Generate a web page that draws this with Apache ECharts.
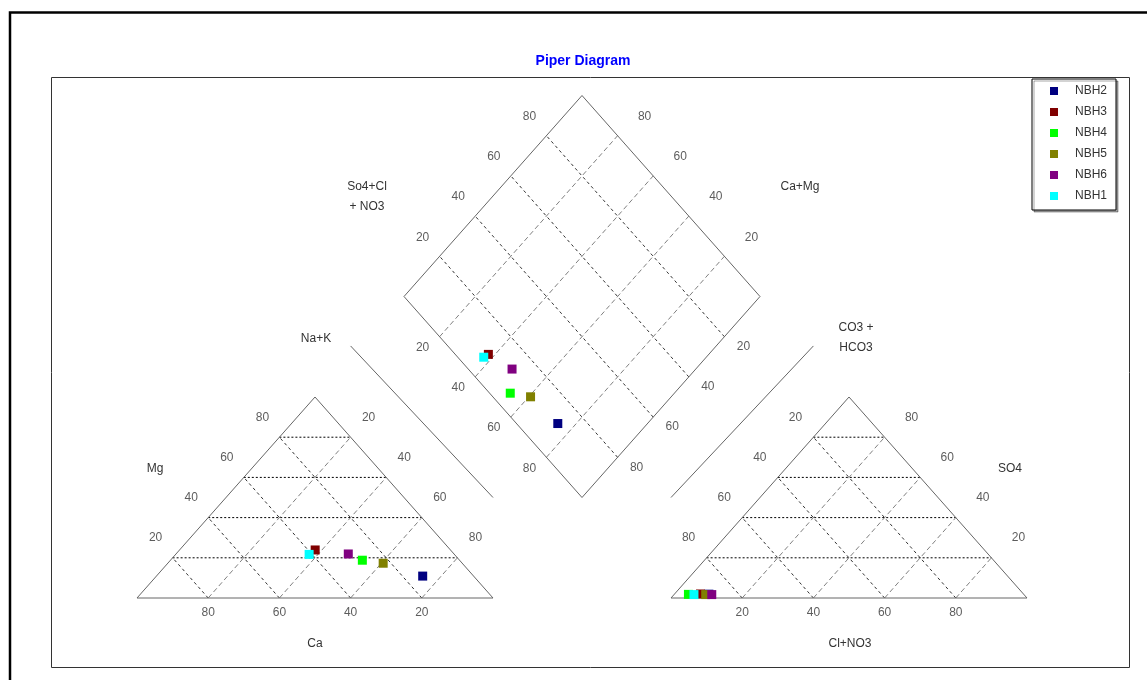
<!DOCTYPE html>
<html>
<head>
<meta charset="utf-8">
<title>Piper Diagram</title>
<script src="https://cdn.jsdelivr.net/npm/echarts@6/dist/echarts.min.js"></script>
<style>
  html, body { margin: 0; padding: 0; background: #ffffff; }
  #chart { width: 1147px; height: 680px; }
</style>
</head>
<body>
<div id="chart"></div>
<script>
// Sample names and symbol colours
const samples = ['NBH2', 'NBH3', 'NBH4', 'NBH5', 'NBH6', 'NBH1'];
const sampleColors = ['#000080', '#800000', '#00ff00', '#808000', '#800080', '#00ffff'];

// Cations, % of meq total
const ca  = [14.3, 38.0, 27.3, 22.2, 29.7, 40.8];
const mg  = [10.9, 23.9, 18.8, 17.3, 21.9, 21.7];
const naK = [74.8, 38.1, 53.9, 60.5, 48.4, 37.5];

// Anions, % of meq total
const hco3  = [88.4, 90.7, 94.2, 89.4, 87.7, 92.7];
const so4   = [1.9, 2.0, 1.8, 1.7, 1.7, 1.7];
const clNo3 = [9.7, 7.3, 4.0, 8.9, 10.6, 5.6];

// Percentage ticks along every side
const gridTicks = [20, 40, 60, 80];

// Plot units: each triangle is 100 wide and 100 tall.
// Cation triangle spans x 0..100, anion triangle x 150..250,
// the diamond sits between them from y 50 to y 250.
function cationPt(m, n) { return [n + m / 2, m]; }
function anionPt(s, cl) { return [150 + cl + s / 2, s]; }
// u = Ca+Mg %, s = SO4+Cl+NO3 %
function diamondPt(u, s) { return [125 + (s - u) / 2, 50 + u + s]; }

const FONT = 'Liberation Sans, Arial, sans-serif';
const TEXT_COLOR = '#333333';

// ---- outlines ----
const outline = [];
function seg(list, a, b) { list.push([a[0], a[1], b[0], b[1]]); }
seg(outline, [0, 0], [100, 0]); seg(outline, [0, 0], [50, 100]); seg(outline, [100, 0], [50, 100]);
seg(outline, [150, 0], [250, 0]); seg(outline, [150, 0], [200, 100]); seg(outline, [250, 0], [200, 100]);
seg(outline, diamondPt(100, 0), diamondPt(100, 100));
seg(outline, diamondPt(100, 100), diamondPt(0, 100));
seg(outline, diamondPt(0, 100), diamondPt(0, 0));
seg(outline, diamondPt(0, 0), diamondPt(100, 0));
// projection guide lines beside the diamond
seg(outline, [60, 125.4], [100, 50]);
seg(outline, [150, 50], [190, 125.4]);

// ---- dashed grids ----
const gridFlat = [], gridBack = [], gridFwd = [];
gridTicks.forEach(function (t) {
  // cation triangle
  seg(gridFlat, [t / 2, t], [100 - t / 2, t]);
  seg(gridBack, [t, 0], [t / 2, t]);
  seg(gridFwd, [t, 0], [t + (100 - t) / 2, 100 - t]);
  // anion triangle
  seg(gridFlat, [150 + t / 2, t], [250 - t / 2, t]);
  seg(gridBack, [150 + t, 0], [150 + t / 2, t]);
  seg(gridFwd, [150 + t, 0], [150 + t + (100 - t) / 2, 100 - t]);
  // diamond
  seg(gridBack, diamondPt(0, t), diamondPt(100, t));
  seg(gridFwd, diamondPt(t, 0), diamondPt(t, 100));
});

function segmentSeries(data, style, z) {
  return {
    type: 'custom',
    coordinateSystem: 'cartesian2d',
    silent: true,
    z: z,
    clip: false,
    data: data,
    renderItem: function (params, api) {
      const p1 = api.coord([api.value(0), api.value(1)]);
      const p2 = api.coord([api.value(2), api.value(3)]);
      return {
        type: 'line',
        shape: { x1: p1[0], y1: p1[1], x2: p2[0], y2: p2[1] },
        style: Object.assign({ fill: null }, style)
      };
    }
  };
}

// ---- tick labels ----
const tickLabels = [];
function tick(pt, text, dx, dy) {
  tickLabels.push({ value: pt, label: { formatter: String(text), offset: [dx, dy] } });
}
gridTicks.forEach(function (t) {
  tick([t / 2, t], t, -17, -20);                 // Mg
  tick([100 - t / 2, t], 100 - t, 18, -20);      // Na+K
  tick([100 - t, 0], t, 0, 15);                  // Ca
  tick([150 + t / 2, t], 100 - t, -18, -20);     // CO3+HCO3
  tick([250 - t / 2, t], t, 27, -20);            // SO4
  tick([150 + t, 0], t, 0, 15);                  // Cl+NO3
  tick(diamondPt(100, t), t, -17, -19);          // SO4+Cl+NO3
  tick(diamondPt(t, 100), t, 27, -19);           // Ca+Mg
  tick(diamondPt(100 - t, 0), t, -17, 11);       // Na+K
  tick(diamondPt(0, 100 - t), t, 19, 10);        // CO3+HCO3
});

// ---- sample points ----
const sampleSeries = samples.map(function (name, i) {
  return {
    name: name,
    type: 'scatter',
    symbol: 'rect',
    symbolSize: 9,
    clip: false,
    z: 5,
    itemStyle: { color: sampleColors[i], opacity: 1 },
    data: [
      cationPt(mg[i], naK[i]),
      anionPt(so4[i], clNo3[i]),
      diamondPt(ca[i] + mg[i], so4[i] + clNo3[i])
    ]
  };
});

function nameText(x, y, text) {
  return {
    type: 'text', x: x, y: y, silent: true,
    style: {
      text: text, fill: TEXT_COLOR, font: '12px ' + FONT,
      align: 'center', verticalAlign: 'middle', lineHeight: 20
    }
  };
}

const chart = echarts.init(document.getElementById('chart'), null, { renderer: 'canvas' });
chart.setOption({
  animation: false,
  backgroundColor: '#ffffff',
  title: {
    text: 'Piper Diagram',
    left: 583,
    textAlign: 'center',
    top: 54,
    padding: 0,
    textStyle: { color: '#0000ff', fontSize: 14, fontWeight: 'bold', fontFamily: FONT }
  },
  legend: {
    data: samples,
    orient: 'vertical',
    left: 1032,
    top: 79,
    icon: 'rect',
    itemWidth: 8,
    itemHeight: 8,
    itemGap: 9,
    padding: [6, 9, 8, 18],
    backgroundColor: '#ffffff',
    borderColor: '#000000',
    borderWidth: 1,
    shadowColor: 'rgba(0,0,0,0.35)',
    shadowOffsetX: 2,
    shadowOffsetY: 2,
    shadowBlur: 0,
    selectedMode: false,
    textStyle: { fontSize: 12, color: TEXT_COLOR, fontFamily: FONT, padding: [0, 0, 0, 12] }
  },
  grid: { left: 137, top: 95.5, width: 890, height: 502.5, show: false, outerBoundsMode: 'none' },
  xAxis: { type: 'value', min: 0, max: 250, show: false },
  yAxis: { type: 'value', min: 0, max: 250, show: false },
  graphic: [
    { type: 'rect', silent: true, z: -10,
      shape: { x: 10, y: 12.5, width: 1200, height: 720 },
      style: { fill: null, stroke: '#000000', lineWidth: 2.5 } },
    { type: 'rect', silent: true, z: -10,
      shape: { x: 51.5, y: 77.5, width: 1078, height: 590 },
      style: { fill: null, stroke: '#333333', lineWidth: 1 } },
    nameText(155, 469, 'Mg'),
    nameText(315, 644, 'Ca'),
    nameText(316, 339, 'Na+K'),
    nameText(367, 197, 'So4+Cl\n+ NO3'),
    nameText(800, 187, 'Ca+Mg'),
    nameText(856, 338, 'CO3 +\nHCO3'),
    nameText(1010, 469, 'SO4'),
    nameText(850, 644, 'Cl+NO3')
  ],
  series: [
    segmentSeries(gridFlat, { stroke: '#000000', lineWidth: 1, lineDash: [2, 2] }, 1),
    segmentSeries(gridBack, { stroke: '#333333', lineWidth: 1, lineDash: [3, 3] }, 1),
    segmentSeries(gridFwd, { stroke: '#808080', lineWidth: 1, lineDash: [5, 3] }, 1),
    segmentSeries(outline, { stroke: '#666666', lineWidth: 1 }, 2),
    {
      type: 'scatter',
      silent: true,
      symbolSize: 1,
      clip: false,
      z: 3,
      itemStyle: { color: 'rgba(0,0,0,0)' },
      label: {
        show: true, position: 'inside',
        color: TEXT_COLOR, fontSize: 12, fontFamily: FONT
      },
      data: tickLabels
    }
  ].concat(sampleSeries)
});
</script>
</body>
</html>
